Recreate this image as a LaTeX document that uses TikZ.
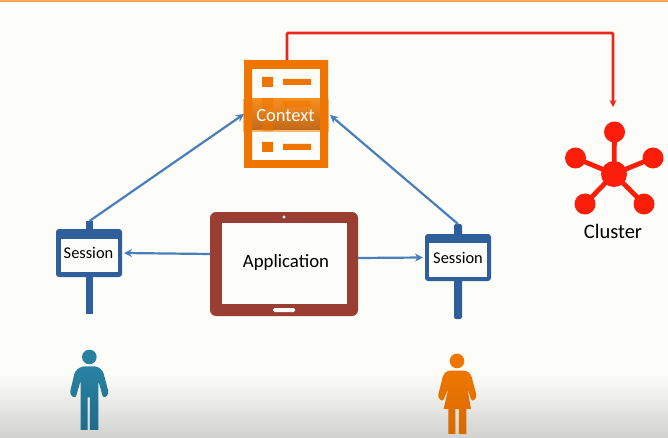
\documentclass[tikz,border=0pt]{standalone}
\usepackage{fontspec}
\setmainfont{Carlito}
\usetikzlibrary{arrows.meta,calc}
\definecolor{paper}{HTML}{FCFCF8}
\definecolor{topband}{HTML}{F9A55C}
\definecolor{ctxor}{HTML}{EE7600}
\definecolor{signblue}{HTML}{2E5F9A}
\definecolor{linkblue}{HTML}{4A7EBB}
\definecolor{tabred}{HTML}{9A3D33}
\definecolor{clred}{HTML}{FA1E0A}
\definecolor{linered}{HTML}{E8281C}
\definecolor{bandtop}{HTML}{F98D1E}
\definecolor{bandbot}{HTML}{C0691A}
\tikzset{
  box/.style={rectangle,inner sep=0pt,outer sep=0pt,anchor=north west},
  hole/.style={box,fill=paper},
  signframe/.style={box,fill=signblue,rounded corners=3pt},
  signpost/.style={box,fill=signblue},
  link/.style={draw=linkblue,line width=2.2pt,-{Stealth[length=8pt,width=8pt]}},
  redlink/.style={draw=linered,line width=2.7pt,-{Stealth[length=7pt,width=7pt]}},
  cldot/.style={circle,fill=clred,inner sep=0pt,outer sep=0pt},
  spoke/.style={draw=clred,line width=4.8pt},
  lbl/.style={text=black,inner sep=0pt,font=\fontsize{16.4}{18}\selectfont}
}
\begin{document}
\begin{tikzpicture}[x=1pt,y=-1pt]
\useasboundingbox (0,0) rectangle (668,438);
\fill[paper] (0,0) rectangle (668,438);
\shade[top color=paper,bottom color=black!17!paper] (0,375) rectangle (668,438);
\fill[topband] (0,0) rectangle (668,2);

% Context server
\node[box,fill=ctxor,minimum width=84pt,minimum height=108pt] (ctx) at (244,60) {};
\fill[paper] (252,69) rectangle (320,160);
\fill[ctxor] (262,77) rectangle (273,87) (283,79) rectangle (311,85);
\fill[ctxor] (262,142) rectangle (273,152) (283,144) rectangle (311,150);
\fill[bandtop!60!paper] (243,99) rectangle (329,132);
\shade[top color=bandtop,bottom color=bandbot] (252,99) rectangle (320,130);
\fill[ctxor] (244,60) rectangle (252,168) (320,60) rectangle (328,168);
\fill[ctxor,opacity=.55] (262,98) rectangle (273,109) (283,101) rectangle (311,107) (262,120) rectangle (273,131);
\node[text=paper,font=\fontsize{18.5}{20}\selectfont] (ctxlabel) at (285.5,116) {Context};

% Application tablet
\node[box,fill=tabred,rounded corners=6pt,minimum width=148pt,minimum height=104pt] (app) at (210,212) {};
\node[hole,minimum width=125pt,minimum height=81pt] (appscreen) at (222,223) {};
\node[text=black,font=\fontsize{18.8}{20}\selectfont] (applabel) at (286,262) {Application};
\fill[paper] (284,217) circle[radius=1.7pt];
\fill[paper,rounded corners=1.5pt] (273,308) rectangle (295,312);

% Left session sign
\node[signpost,minimum width=7pt,minimum height=93pt] (postL) at (86,221) {};
\node[signframe,minimum width=66pt,minimum height=48pt] (sesL) at (56,229) {};
\node[hole,minimum width=57pt,minimum height=33pt] (sesLin) at (61,239) {};
\node[lbl] (sesLlabel) at (88.5,252.5) {Session};

% Right session sign
\node[signpost,minimum width=8pt,minimum height=95pt,rounded corners=2pt] (postR) at (454,224) {};
\node[signframe,minimum width=66pt,minimum height=47pt] (sesR) at (425,234) {};
\node[hole,minimum width=58pt,minimum height=34pt] (sesRin) at (429,243) {};
\node[lbl] (sesRlabel) at (458,257.5) {Session};

% Cluster
\node[cldot,minimum size=26pt] (hub) at (614,174) {};
\node[cldot,minimum size=21pt] (c1) at (614.5,132) {};
\node[cldot,minimum size=21pt] (c2) at (575.5,158) {};
\node[cldot,minimum size=21pt] (c3) at (653,158) {};
\node[cldot,minimum size=21pt] (c4) at (585,204) {};
\node[cldot,minimum size=21pt] (c5) at (644,204) {};
\foreach \n in {c1,c2,c3,c4,c5} \draw[spoke] (hub.center) -- (\n.center);
\node[text=black,font=\fontsize{20.5}{22}\selectfont] (cllabel) at (613,231) {Cluster};

% Connectors
\coordinate (redcorner) at (613,33);
\coordinate (redtip) at (613,107);
\draw[redlink,rounded corners=1pt] ([xshift=1pt]ctx.north) |- (redcorner) -- (redtip);
\draw[link] (postL.north) -- (ctx.west);
\draw[link] (postR.north) -- ([xshift=2pt,yshift=-1pt]ctx.east);
\draw[link] ([yshift=10pt]app.west) -- ([xshift=2pt,yshift=0pt]sesL.east);
\draw[link] ([yshift=6pt]app.east) -- ([xshift=-2pt]sesR.west);

% Man
\begin{scope}[shift={(40,210)},x=.3333pt,y=-.3333pt]
\fill[color={rgb,255:red,42;green,128;blue,160}] (148,441) circle[radius=7.3pt];
\shade[top color={rgb,255:red,42;green,130;blue,162},bottom color={rgb,255:red,30;green,108;blue,138},rounded corners=3pt]
  (125,469) -- (172,469) -- (189,483) -- (207,552) -- (190,566) -- (175,512)
  [sharp corners] -- (175,660) -- (150,660) -- (150,562) -- (143,562) -- (143,660) -- (122,660) -- (122,512)
  [rounded corners=3pt] -- (106,566) -- (89,552) -- (105,483) -- cycle;
\end{scope}

% Woman
\begin{scope}[shift={(350,210)},x=.3333pt,y=-.3333pt]
\fill[ctxor] (321,453) circle[radius=7.3pt];
\shade[top color=ctxor,bottom color=ctxor!90!black,rounded corners=3pt]
  (292,482) -- (350,482) -- (363,493) -- (381,562) -- (366,576) -- (352,535)
  [sharp corners] -- (363,597) -- (349,597) -- (349,672) -- (327,672) -- (327,597) -- (316,597) -- (316,672) -- (295,672) -- (295,597) -- (281,597) -- (295,535)
  [rounded corners=3pt] -- (278,576) -- (263,562) -- (280,493) -- cycle;
\end{scope}
\end{tikzpicture}
\end{document}
